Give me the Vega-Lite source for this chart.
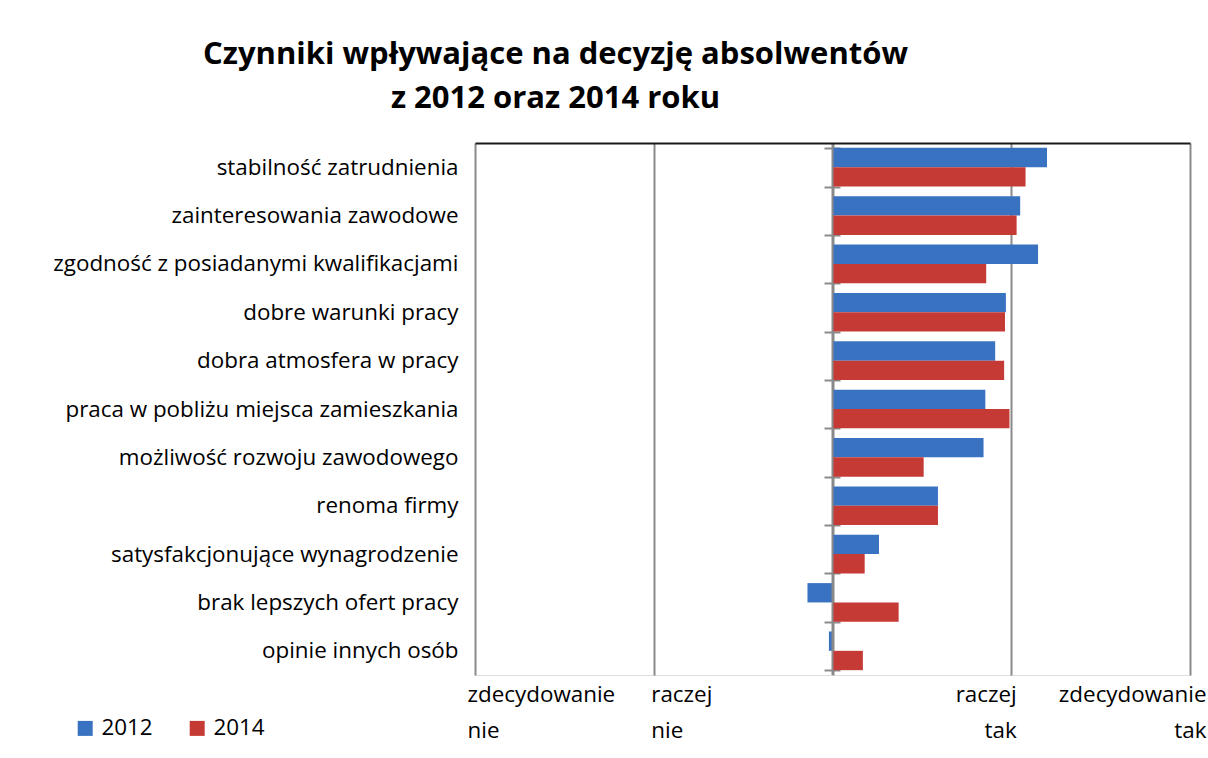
{
  "$schema": "https://vega.github.io/schema/vega-lite/v6.json",
  "width": 715,
  "height": 532,
  "autosize": {"type": "none"},
  "padding": {"left": 475, "top": 143, "right": 18, "bottom": 83},
  "background": "white",
  "title": {
    "text": ["Czynniki wpływające na decyzję absolwentów", "z 2012 oraz 2014 roku"],
    "font": "Open Sans",
    "fontSize": 31,
    "fontWeight": "bold",
    "color": "black",
    "anchor": "middle",
    "dx": -277,
    "offset": 17,
    "lineHeight": 44
  },
  "data": {
    "values": [
      {"czynnik": "stabilność zatrudnienia", "rok": "2012", "wartosc": 1.2},
      {"czynnik": "stabilność zatrudnienia", "rok": "2014", "wartosc": 1.08},
      {"czynnik": "zainteresowania zawodowe", "rok": "2012", "wartosc": 1.05},
      {"czynnik": "zainteresowania zawodowe", "rok": "2014", "wartosc": 1.03},
      {"czynnik": "zgodność z posiadanymi kwalifikacjami", "rok": "2012", "wartosc": 1.15},
      {"czynnik": "zgodność z posiadanymi kwalifikacjami", "rok": "2014", "wartosc": 0.86},
      {"czynnik": "dobre warunki pracy", "rok": "2012", "wartosc": 0.97},
      {"czynnik": "dobre warunki pracy", "rok": "2014", "wartosc": 0.965},
      {"czynnik": "dobra atmosfera w pracy", "rok": "2012", "wartosc": 0.91},
      {"czynnik": "dobra atmosfera w pracy", "rok": "2014", "wartosc": 0.96},
      {"czynnik": "praca w pobliżu miejsca zamieszkania", "rok": "2012", "wartosc": 0.855},
      {"czynnik": "praca w pobliżu miejsca zamieszkania", "rok": "2014", "wartosc": 0.99},
      {"czynnik": "możliwość rozwoju zawodowego", "rok": "2012", "wartosc": 0.845},
      {"czynnik": "możliwość rozwoju zawodowego", "rok": "2014", "wartosc": 0.51},
      {"czynnik": "renoma firmy", "rok": "2012", "wartosc": 0.59},
      {"czynnik": "renoma firmy", "rok": "2014", "wartosc": 0.59},
      {"czynnik": "satysfakcjonujące wynagrodzenie", "rok": "2012", "wartosc": 0.26},
      {"czynnik": "satysfakcjonujące wynagrodzenie", "rok": "2014", "wartosc": 0.18},
      {"czynnik": "brak lepszych ofert pracy", "rok": "2012", "wartosc": -0.14},
      {"czynnik": "brak lepszych ofert pracy", "rok": "2014", "wartosc": 0.37},
      {"czynnik": "opinie innych osób", "rok": "2012", "wartosc": -0.02},
      {"czynnik": "opinie innych osób", "rok": "2014", "wartosc": 0.17}
    ]
  },
  "layer": [
    {
      "mark": {"type": "bar"},
      "encoding": {
        "y": {
          "field": "czynnik",
          "type": "nominal",
          "sort": null,
          "scale": {"paddingInner": 0.2, "paddingOuter": 0.1},
          "axis": {
            "title": null,
            "orient": "left",
            "offset": -365,
            "domain": false,
            "ticks": true,
            "tickBand": "extent",
            "tickSize": 16,
            "tickColor": "#8a8a8a",
            "tickWidth": 2,
            "labelPadding": 366,
            "labelFont": "Open Sans",
            "labelFontSize": 22.4,
            "labelColor": "black",
            "labelLimit": 0,
            "grid": false
          }
        },
        "x": {
          "field": "wartosc",
          "type": "quantitative",
          "scale": {"domain": [-2, 2], "nice": false},
          "axis": {
            "title": null,
            "orient": "bottom",
            "values": [-2, -1, 0, 1, 2],
            "grid": true,
            "gridColor": "#8a8a8a",
            "gridWidth": 2,
            "domain": false,
            "ticks": false,
            "labelFont": "Open Sans",
            "labelFontSize": 22.4,
            "labelColor": "black",
            "labelPadding": 8,
            "labelBaseline": "top",
            "labelLineHeight": 36,
            "labelOverlap": false,
            "labelBound": false,
            "labelFlush": false,
            "labelExpr": "datum.value == -2 ? ['zdecydowanie','nie'] : datum.value == -1 ? ['raczej','nie'] : datum.value == 1 ? ['raczej','tak'] : datum.value == 2 ? ['zdecydowanie','tak'] : ''",
            "labelAlign": {"condition": {"test": "datum.value < 0", "value": "left"}, "value": "right"},
            "labelOffset": {
              "condition": [
                {"test": "datum.value == -2", "value": -8},
                {"test": "datum.value == -1", "value": -3},
                {"test": "datum.value == 1", "value": 5}
              ],
              "value": 16
            }
          }
        },
        "yOffset": {"field": "rok", "type": "nominal", "sort": ["2012", "2014"]},
        "color": {
          "field": "rok",
          "type": "nominal",
          "scale": {"domain": ["2012", "2014"], "range": ["#3A72C2", "#C63A36"]},
          "legend": {
            "title": null,
            "orient": "none",
            "legendX": -401,
            "legendY": 574,
            "direction": "horizontal",
            "symbolType": "square",
            "symbolSize": 225,
            "symbolStrokeWidth": 0,
            "labelFont": "Open Sans",
            "labelFontSize": 22.4,
            "labelColor": "black",
            "labelOffset": 5,
            "columnPadding": 33
          }
        }
      }
    },
    {
      "data": {"values": [{"zero": 0}]},
      "mark": {"type": "rule", "color": "#8a8a8a", "strokeWidth": 2},
      "encoding": {
        "x": {
          "field": "zero",
          "type": "quantitative",
          "axis": {
            "orient": "top",
            "title": null,
            "labels": false,
            "ticks": false,
            "grid": false,
            "domain": true,
            "domainColor": "#1a1a1a",
            "domainWidth": 2,
            "zindex": 1
          }
        }
      }
    }
  ],
  "resolve": {"axis": {"x": "independent"}}
}
